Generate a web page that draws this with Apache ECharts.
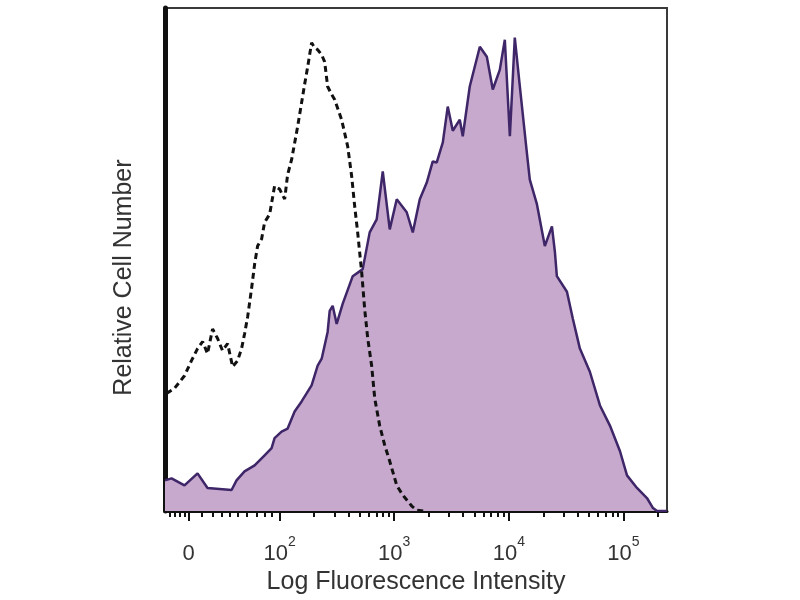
<!DOCTYPE html>
<html><head><meta charset="utf-8">
<script src="https://cdn.jsdelivr.net/npm/echarts@6/dist/echarts.min.js"></script>
<style>html,body{margin:0;padding:0;background:#fff}#c{width:800px;height:600px}</style>
</head><body><div id="c"></div>
<script>
// x values are in display (decade) units of the biexponential axis: 2 = 10^2, 3 = 10^3 ...
const stainedX = [1.00,1.057,1.170,1.284,1.371,1.581,1.624,1.694,1.782,1.869,1.930,1.956,2.017,2.070,2.131,2.192,2.279,2.332,2.367,2.419,2.437,2.463,2.498,2.550,2.638,2.725,2.786,2.847,2.900,2.961,3.022,3.109,3.162,3.223,3.284,3.336,3.371,3.424,3.467,3.511,3.572,3.598,3.659,3.747,3.808,3.860,3.921,3.965,4.009,4.052,4.096,4.157,4.183,4.245,4.314,4.376,4.402,4.419,4.507,4.559,4.620,4.707,4.795,4.882,4.970,5.031,5.118,5.205,5.258,5.293,5.380];
const stainedY = [6.1,6.5,5.1,7.5,4.6,4.2,6.1,7.9,9.1,11.1,12.5,14.5,15.8,16.4,19.8,21.8,25.0,28.9,30.3,35.6,39.8,40.8,37.2,41.2,46.7,48.1,55.4,58.0,67.5,56.0,62.0,59.4,55.4,62.0,65.3,69.5,69.3,73.3,80.4,75.6,77.8,74.5,84.4,92.3,90.3,83.8,87.7,93.7,74.5,94.1,84.4,71.3,65.9,61.0,52.7,56.6,51.5,46.7,43.6,38.2,32.3,27.7,21.0,17.0,11.9,7.1,4.6,2.6,0.6,0,0];
const controlX = [1.013,1.083,1.170,1.231,1.284,1.328,1.371,1.415,1.459,1.502,1.546,1.590,1.633,1.668,1.694,1.721,1.755,1.782,1.808,1.843,1.869,1.913,1.956,2.000,2.044,2.070,2.105,2.157,2.192,2.218,2.245,2.279,2.306,2.332,2.367,2.393,2.419,2.454,2.480,2.541,2.594,2.629,2.655,2.681,2.716,2.742,2.769,2.803,2.830,2.873,2.917,2.961,3.022,3.074,3.153,3.197,3.266];
const controlY = [23.4,24.4,26.9,29.9,32.3,33.7,31.3,36.2,34.3,31.9,33.3,28.7,29.9,32.3,35.2,38.6,44.2,49.1,52.7,54.1,57.4,59.0,64.6,64.0,62.0,66.9,69.9,76.4,81.2,84.8,88.3,93.1,92.1,91.7,90.7,89.3,84.4,82.8,81.8,77.8,72.5,66.5,60.6,55.4,47.5,40.2,34.3,28.9,22.4,17.0,13.1,9.9,5.1,3.2,1.0,0.2,0];
const majorTickPos = [1.205, 2, 3, 4, 5];
const majorTickBase = ['0', '10', '10', '10', '10'];
const majorTickExp = ['', '2', '3', '4', '5'];
const linearMinorTicks = [1.04, 1.083, 1.127, 1.170, 1.319, 1.415, 1.493, 1.563, 1.633, 1.712, 1.799, 1.869, 1.930];
const xMin = 1.0, xMax = 5.38;

const logMinor = [];
for (let d = 2; d <= 5; d++) {
  for (let k = 2; k <= 9; k++) {
    const v = d + Math.log10(k);
    if (v < xMax) logMinor.push(v);
  }
}
const minorTicks = linearMinorTicks.concat(logMinor);

const fontFam = 'Liberation Sans';
const chart = echarts.init(document.getElementById('c'), null, {renderer: 'canvas'});
chart.setOption({
  animation: false,
  backgroundColor: '#fff',
  grid: {left: 165, top: 8, right: 133, bottom: 87, show: true, borderColor: '#3a3a3a', borderWidth: 2},
  xAxis: [{
    type: 'value', min: xMin, max: xMax, position: 'bottom',
    axisLine: {show: true, onZero: false, lineStyle: {color: '#111', width: 3}},
    axisTick: {show: true, inside: false, length: 10, customValues: majorTickPos, lineStyle: {color: '#111', width: 2}},
    axisLabel: {
      show: true, margin: 24, customValues: majorTickPos,
      color: '#333', fontFamily: fontFam,
      formatter: function (v) {
        let best = 0;
        majorTickPos.forEach(function (p, i) { if (Math.abs(p - v) < Math.abs(majorTickPos[best] - v)) best = i; });
        return majorTickExp[best] ? '{n|' + majorTickBase[best] + '}{s|' + majorTickExp[best] + '}' : '{n|' + majorTickBase[best] + '}';
      },
      rich: {
        n: {fontSize: 22, fontFamily: fontFam, color: '#333', lineHeight: 30, verticalAlign: 'bottom'},
        s: {fontSize: 14, fontFamily: fontFam, color: '#333', lineHeight: 30, verticalAlign: 'top'}
      }
    },
    splitLine: {show: false},
    name: 'Log Fluorescence Intensity', nameLocation: 'middle', nameGap: 55,
    nameTextStyle: {color: '#333', fontSize: 25, fontFamily: fontFam}
  }, {
    type: 'value', min: xMin, max: xMax, position: 'bottom',
    axisLine: {show: false},
    axisTick: {show: true, length: 6, customValues: minorTicks, lineStyle: {color: '#111', width: 2}},
    axisLabel: {show: false},
    splitLine: {show: false}
  }],
  yAxis: {
    type: 'value', min: 0, max: 100,
    axisLine: {show: true, onZero: false, lineStyle: {color: '#111', width: 5}},
    axisTick: {show: false}, axisLabel: {show: false}, splitLine: {show: false},
    name: 'Relative Cell Number', nameLocation: 'middle', nameGap: 28,
    nameTextStyle: {color: '#333', fontSize: 25, fontFamily: fontFam, padding: [0, 36, 0, 0]}
  },
  series: [{
    type: 'line', xAxisIndex: 0, symbol: 'none',
    data: stainedX.map(function (x, i) { return [x, stainedY[i]]; }),
    lineStyle: {color: '#3e2668', width: 2.5},
    areaStyle: {color: '#c6a9cc', opacity: 1},
    z: 2
  }, {
    type: 'line', xAxisIndex: 0, symbol: 'none',
    data: controlX.map(function (x, i) { return [x, controlY[i]]; }),
    lineStyle: {color: '#111', width: 3, type: [6, 4]},
    z: 3
  }]
});
</script>
</body></html>
